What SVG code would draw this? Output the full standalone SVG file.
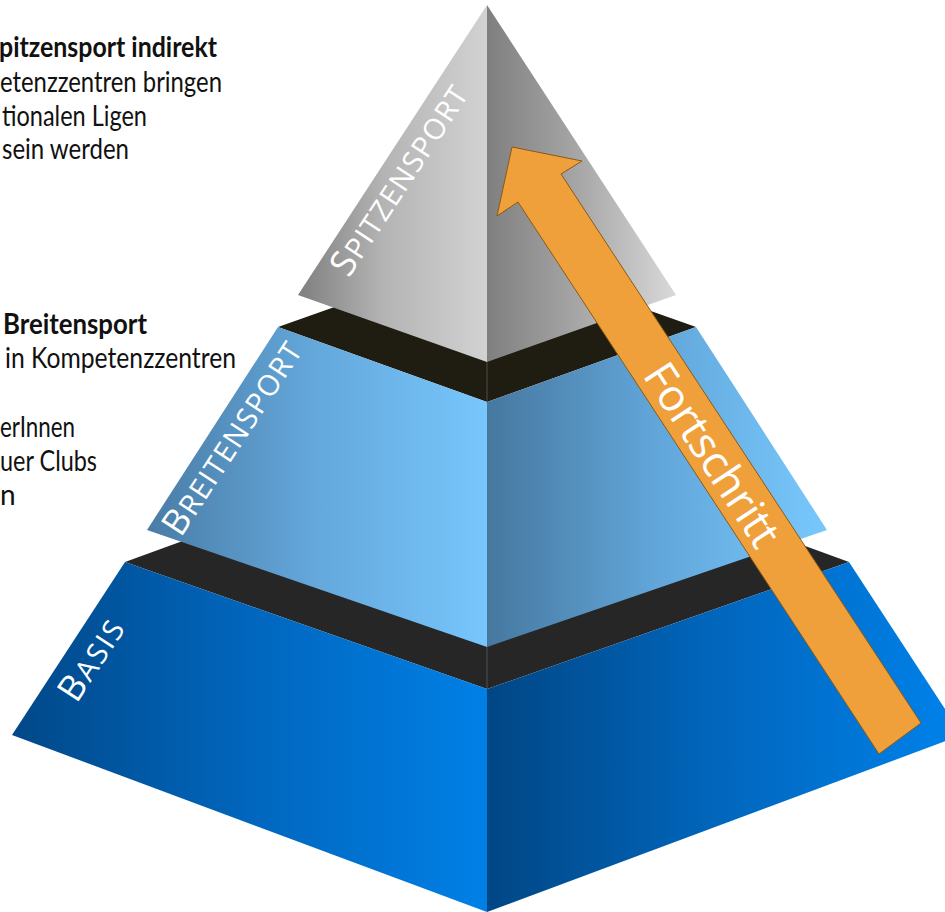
<svg xmlns="http://www.w3.org/2000/svg" width="945" height="912" viewBox="0 0 945 912">
<defs>
<linearGradient id="gTopL" gradientUnits="userSpaceOnUse" x1="298" y1="0" x2="487" y2="0"><stop offset="0" stop-color="#7f7f7f"/><stop offset="0.45" stop-color="#b4b4b4"/><stop offset="1" stop-color="#d2d2d2"/></linearGradient>
<linearGradient id="gTopR" gradientUnits="userSpaceOnUse" x1="487" y1="0" x2="676" y2="0"><stop offset="0" stop-color="#7f7f7f"/><stop offset="0.5" stop-color="#a8a8a8"/><stop offset="1" stop-color="#d9d9d9"/></linearGradient>
<linearGradient id="gMidL" gradientUnits="userSpaceOnUse" x1="147" y1="0" x2="487" y2="0"><stop offset="0" stop-color="#4a7ca5"/><stop offset="0.5" stop-color="#64a8dc"/><stop offset="1" stop-color="#77c6fc"/></linearGradient>
<linearGradient id="gMidR" gradientUnits="userSpaceOnUse" x1="487" y1="0" x2="827" y2="0"><stop offset="0" stop-color="#46789f"/><stop offset="0.5" stop-color="#62a6da"/><stop offset="1" stop-color="#78c8fd"/></linearGradient>
<linearGradient id="gBasL" gradientUnits="userSpaceOnUse" x1="12" y1="0" x2="487" y2="0"><stop offset="0" stop-color="#014888"/><stop offset="0.5" stop-color="#0166bd"/><stop offset="1" stop-color="#0080e6"/></linearGradient>
<linearGradient id="gBasR" gradientUnits="userSpaceOnUse" x1="487" y1="0" x2="945" y2="0"><stop offset="0" stop-color="#014685"/><stop offset="0.5" stop-color="#0166bc"/><stop offset="1" stop-color="#0080e8"/></linearGradient>
<style>
.lbl{font-family:"Open Sans","DejaVu Sans",sans-serif;fill:#ffffff;text-anchor:middle}
.txt{font-family:Lato,"Liberation Sans",sans-serif;font-size:28px;fill:#111111}
.b{font-weight:bold}
.arrow{fill:#f0a03a;stroke:#8a5a14;stroke-width:1}
.seam{stroke:#5a5a5a;stroke-width:0.8}
</style>
</defs>

<g id="text-left">
<text class="txt b" x="-1" y="57" textLength="218" lengthAdjust="spacingAndGlyphs">pitzensport indirekt</text>
<text class="txt" x="0" y="92" textLength="222" lengthAdjust="spacingAndGlyphs">etenzzentren bringen</text>
<text class="txt" x="2" y="126" textLength="145" lengthAdjust="spacingAndGlyphs">tionalen Ligen</text>
<text class="txt" x="2" y="159" textLength="127" lengthAdjust="spacingAndGlyphs">sein werden</text>
<text class="txt b" x="3" y="334" textLength="144" lengthAdjust="spacingAndGlyphs">Breitensport</text>
<text class="txt" x="5" y="368" textLength="231" lengthAdjust="spacingAndGlyphs">in Kompetenzzentren</text>
<text class="txt" x="0" y="437" textLength="75" lengthAdjust="spacingAndGlyphs">erInnen</text>
<text class="txt" x="0" y="471" textLength="97" lengthAdjust="spacingAndGlyphs">uer Clubs</text>
<text class="txt" x="0" y="505">n</text>
</g>

<g id="basis">
<polygon points="125,562 487,430 849,562 487,689" fill="#262626"/>
<polygon points="12,735 125,562 487,689 487,912" fill="url(#gBasL)"/>
<polygon points="487,689 849,562 962,735 487,912" fill="url(#gBasR)"/>
<line class="seam" x1="487" y1="647" x2="487" y2="689"/>
<text class="lbl" transform="translate(91,660) rotate(-56.8)" x="0" y="12" textLength="90"><tspan font-size="36">B</tspan><tspan font-size="29">ASIS</tspan></text>
</g>

<g id="breitensport">
<polygon points="278,327 487,253 696,327 487,402" fill="#1f1c12"/>
<polygon points="147,530 278,327 487,402 487,647" fill="url(#gMidL)"/>
<polygon points="487,402 696,327 827,530 487,647" fill="url(#gMidR)"/>
<line class="seam" x1="487" y1="362" x2="487" y2="402"/>
<text class="lbl" transform="translate(232,438) rotate(-56.8)" x="0" y="12" textLength="224"><tspan font-size="36">B</tspan><tspan font-size="29">REITENSPORT</tspan></text>
</g>

<g id="spitzensport">
<polygon points="487,5 298,295 487,362" fill="url(#gTopL)"/>
<polygon points="487,5 487,362 676,295" fill="url(#gTopR)"/>
<text class="lbl" transform="translate(399,180) rotate(-56.8)" x="0" y="12" textLength="220"><tspan font-size="36">S</tspan><tspan font-size="29">PITZENSPORT</tspan></text>
</g>

<g id="connectors">
<g id="fortschritt">
<polygon class="arrow" points="512,147 582,161 561,174 921,723 879,754 518,202 497,216"/>
<text class="lbl" transform="translate(712,455) rotate(56.8)" x="0" y="15" font-size="44" textLength="210">Fortschritt</text>
</g>
</g>
</svg>
